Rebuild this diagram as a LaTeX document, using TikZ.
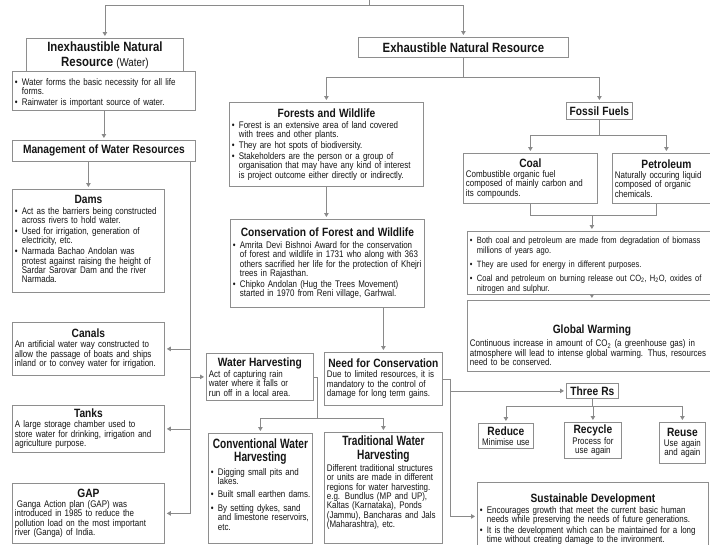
\documentclass[tikz,border=0pt]{standalone}
\usepackage{fontspec}
\setmainfont{Liberation Sans}[FakeStretch=0.83]
\newfontfamily\headfont{Liberation Sans}[FakeStretch=0.85]
\newfontfamily\narrowbold{Liberation Sans}[FakeStretch=0.75]
\usetikzlibrary{arrows.meta,calc}

\definecolor{edge}{HTML}{8A8A8A}
\definecolor{frame}{HTML}{8E8E8E}
\definecolor{ink}{HTML}{151515}

% headings
\newcommand\hd[1]{{\centering\headfont\fontsize{12}{13}\selectfont\bfseries #1\par}\vskip0.5pt}
\newcommand\bighd[1]{{\centering\headfont\fontsize{13.4}{14.5}\selectfont\bfseries #1\par}}
\newcommand\tallhd[1]{{\centering\narrowbold\fontsize{13.5}{13.5}\selectfont\bfseries #1\par}\vskip1pt}
% bullet item with hanging indent
\newcommand\itm{\par\vskip1.4pt\hangindent=7pt\hangafter=1\noindent\hbox to 7pt{\textbullet\hfil}}
% lets hand-broken lines run a little past the text width instead of rewrapping
\newcommand\slack{\rightskip=-14pt plus 1fil\relax}
% blank space kept below the last line (lifts the text inside its box)
\newcommand\lift[1]{\par\kern#1\relax}

\tikzset{
  panelbox/.style={draw=frame, line width=0.8pt, fill=white, inner xsep=2.5pt,
    inner ysep=1.5pt, anchor=north west, align=left, text=ink,
    font=\fontsize{9.6}{9.4}\selectfont},
  midbox/.style={panelbox, align=center},
  link/.style={draw=edge, line width=0.8pt},
  arr/.style={link, -{Triangle[width=4.5pt,length=4pt]}, shorten >=2pt},
}

% \panel{name}{x1}{y1}{x2}{y2}{content}: left-aligned box
\newcommand\panel[6]{%
  \pgfmathsetmacro\pw{#4-#2-5}%
  \pgfmathsetmacro\ph{#5-#3}%
  \node[panelbox, text width=\pw pt, minimum height=\ph pt] (#1) at (#2,#3) {\slack#6\par};}
% \cpanel{name}{x1}{y1}{x2}{y2}{content}: centred box
\newcommand\cpanel[6]{%
  \pgfmathsetmacro\pw{#4-#2-5}%
  \pgfmathsetmacro\ph{#5-#3}%
  \node[midbox, text width=\pw pt, minimum height=\ph pt] (#1) at (#2,#3) {#6\par};}

\begin{document}
\begin{tikzpicture}[x=1pt,y=-1pt]
\useasboundingbox (0,0) rectangle (710,544);
\fill[white] (0,0) rectangle (710,544);

% ---------- water (left) branch ----------
\cpanel{inex}{26}{38}{183}{72}{\bighd{Inexhaustible Natural\\Resource {\mdseries\fontsize{11.5}{14}\selectfont(Water)}}}
\panel{inexb}{12}{71}{195}{110}{%
\itm Water forms the basic necessity for all life\newline forms.
\itm Rainwater is important source of water.}
\cpanel{mgmt}{12}{140}{195}{161}{\hd{Management of Water Resources}}

\panel{dams}{12}{189}{164}{292}{\hd{Dams}%
\itm Act as the barriers being constructed\newline across rivers to hold water.
\itm Used for irrigation, generation of\newline electricity, etc.
\itm Narmada Bachao Andolan was\newline protest against raising the height of\newline Sardar Sarovar Dam and the river\newline Narmada.\lift{4pt}}

\panel{canals}{12}{322}{164}{375}{\hd{Canals}%
An artificial water way constructed to\newline allow the passage of boats and ships\newline inland or to convey water for irrigation.}

\panel{tanks}{12}{405}{164}{452}{\hd{Tanks}%
A large storage chamber used to\newline store water for drinking, irrigation and\newline agriculture purpose.}

\panel{gap}{12}{483}{164}{543}{\hd{GAP}%
\hspace*{2pt}Ganga Action plan (GAP) was\newline introduced in 1985 to reduce the\newline pollution load on the most important\newline river (Ganga) of India.}

% ---------- exhaustible branch ----------
\cpanel{exh}{358}{37}{568}{57}{\bighd{Exhaustible Natural Resource}}

\panel{forest}{229}{102}{423}{186}{\hd{Forests and Wildlife}%
\itm Forest is an extensive area of land covered\newline with trees and other plants.
\itm They are hot spots of biodiversity.
\itm Stakeholders are the person or a group of\newline organisation that may have any kind of interest\newline is project outcome either directly or indirectly.}

\panel{cons}{230}{219}{424}{307}{\hd{Conservation of Forest and Wildlife}%
\itm Amrita Devi Bishnoi Award for the conservation\newline of forest and wildlife in 1731 who along with 363\newline others sacrified her life for the protection of Khejri\newline trees in Rajasthan.
\itm Chipko Andolan (Hug the Trees Movement)\newline started in 1970 from Reni village, Garhwal.}

\cpanel{fossil}{566}{102}{632}{119}{\hd{Fossil Fuels}}

\panel{coal}{463}{153}{597}{203}{\hd{Coal}%
Combustible organic fuel\newline composed of mainly carbon and\newline its compounds.}

\panel{pet}{612}{153}{720}{203}{\hd{Petroleum}%
Naturally occuring liquid\newline composed of organic\newline chemicals.}

\panel{fb}{467}{231}{716}{280}{\fontsize{9.1}{9.6}\selectfont
\itm Both coal and petroleum are made from degradation of biomass\newline millions of years ago.
\vskip3pt\itm They are used for energy in different purposes.
\vskip3pt\itm Coal and petroleum on burning release out CO\textsubscript{2}, H\textsubscript{2}O, oxides of\newline nitrogen and sulphur.}

\panel{gw}{467}{300}{716}{371}{\hd{\rule{0pt}{28pt}Global Warming}\vskip2pt
Continuous increase in amount of CO\textsubscript{2} (a greenhouse gas) in\newline atmosphere will lead to intense global warming. Thus, resources\newline need to be conserved.}

% ---------- conservation ----------
\panel{wh}{206}{353}{313}{400}{\hd{Water Harvesting}%
Act of capturing rain\newline water where it falls or\newline run off in a local area.}

\panel{need}{324}{352}{442}{405}{\hd{Need for Conservation}%
Due to limited resources, it is\newline mandatory to the control of\newline damage for long term gains.}

\panel{conv}{208}{433}{312}{543}{\tallhd{Conventional Water\\Harvesting}%
\itm Digging small pits and\newline lakes.
\vskip2.5pt\itm Built small earthen dams.
\vskip2.5pt\itm By setting dykes, sand\newline and limestone reservoirs,\newline etc.\lift{8pt}}

\panel{trad}{324}{432}{442}{543}{\tallhd{Traditional Water\\Harvesting}%
Different traditional structures\newline or units are made in different\newline regions for water harvesting.\newline e.g. Bundlus (MP and UP),\newline Kaltas (Karnataka), Ponds\newline (Jammu), Bancharas and Jals\newline (Maharashtra), etc.\lift{10pt}}

\cpanel{three}{566}{383}{618}{398}{\hd{Three Rs}}
\cpanel{reduce}{478}{423}{533}{448}{\hd{Reduce}Minimise use}
\cpanel{recycle}{564}{422}{621}{458}{\hd{Recycle}Process for\\use again}
\cpanel{reuse}{659}{422}{705}{463}{\hd{Reuse}Use again\\and again}

\panel{sust}{477}{482}{708}{550}{\hd{\rule{0pt}{19pt}Sustainable Development}\vskip-2pt
\itm Encourages growth that meet the current basic human\newline needs while preserving the needs of future generations.
\itm It is the development which can be maintained for a long\newline time without creating damage to the invironment.\lift{4pt}}

% ---------- connectors ----------
\coordinate (root) at (369,-3);
\coordinate (topbar) at (369,5);
\draw[link] (root) -- (topbar);
\draw[arr] (topbar) -| (inex.north);
\draw[arr] (topbar) -| (exh.north);

\draw[arr] (inexb.south -| mgmt.north) -- (mgmt.north);
\draw[arr] (mgmt.south -| dams.north) -- (dams.north);
\coordinate (trunk) at ($(mgmt.south east)+(-5,0)$);
\draw[link] (trunk) -- (trunk |- gap.east);
\draw[arr] (trunk |- canals.east) -- (canals.east);
\draw[arr] (trunk |- tanks.east) -- (tanks.east);
\draw[arr] (trunk |- gap.east) -- (gap.east);
\draw[arr] (trunk |- wh.west) -- (wh.west);

\coordinate (exbar) at ($(exh.south)+(0,20)$);
\draw[arr] (exh.south) -- (exbar) -| (forest.north);
\draw[arr] (exbar) -| (fossil.north);
\draw[arr] (forest.south) -- (forest.south |- cons.north);
\draw[arr] (cons.south -| need.north) -- (need.north);

\coordinate (fbar) at ($(fossil.south)+(0,16)$);
\draw[arr] (fossil.south) -- (fbar) -| (coal.north);
\draw[arr] (fbar) -| (pet.north);
\coordinate (cpjoin) at ($(fb.north)+(0,-16)$);
\coordinate (petfoot) at ($(pet.south)+(-10,0)$);
\draw[link] (coal.south) |- (cpjoin);
\draw[link] (petfoot) |- (cpjoin);
\draw[arr] (cpjoin) -- (fb.north);
\draw[arr] (fb.south) -- (gw.north);

\coordinate (whx) at ($(wh.east)+(4,0)$);
\coordinate (whbar) at ($(whx)+(0,41)$);
\draw[link] (wh.east) -- (whx) -- (whbar);
\draw[arr] (whbar) -| (conv.north);
\draw[arr] (whbar) -| (trad.north);

\coordinate (nbus) at ($(need.east)+(8,0)$);
\draw[link] (need.east) -- (nbus);
\draw[arr] (nbus) |- (three.west);
\draw[arr] (nbus) |- (sust.west);

\coordinate (rbar) at ($(three.south)+(0,8)$);
\draw[arr] (three.south) -- (rbar) -| (reduce.north);
\draw[arr] (rbar) -| (recycle.north);
\draw[arr] (rbar) -| (reuse.north);
\end{tikzpicture}
\end{document}
